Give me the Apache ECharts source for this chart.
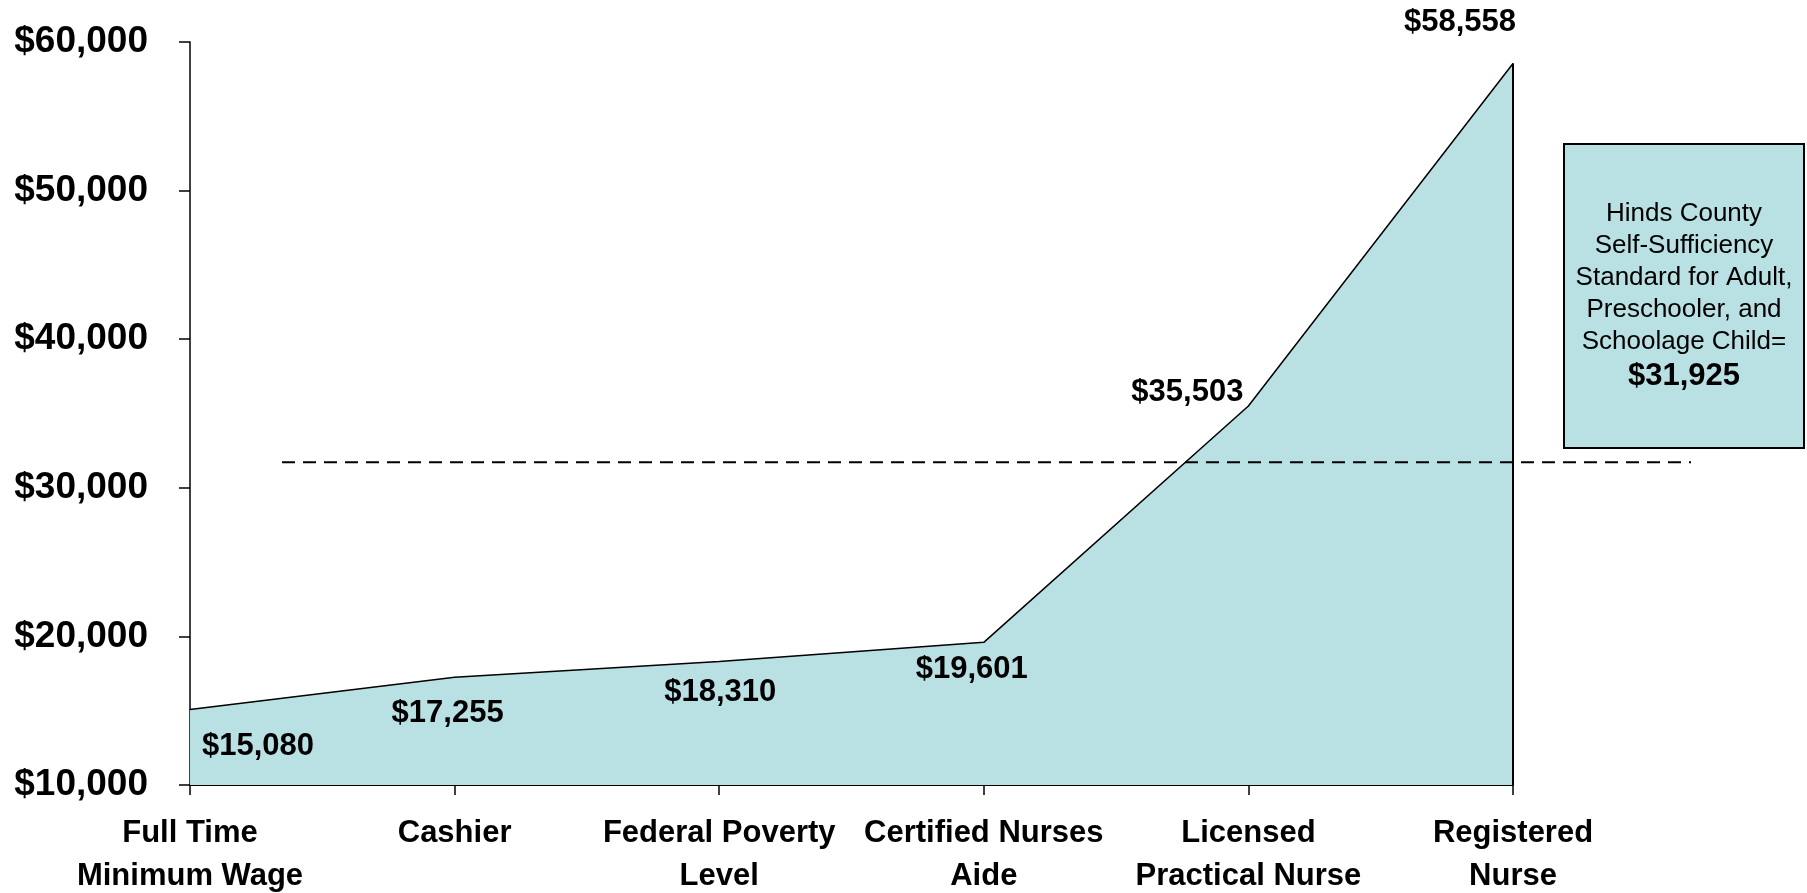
<!DOCTYPE html>
<html>
<head>
<meta charset="utf-8">
<title>Hinds County wages</title>
<script src="https://cdn.jsdelivr.net/npm/echarts@6/dist/echarts.min.js"></script>
<style>
  html, body { margin: 0; padding: 0; background: #fff; }
  #main { width: 1807px; height: 893px; }
</style>
</head>
<body>
<div id="main"></div>
<script>
// 职业类别
var categories = ['Full Time\nMinimum Wage', 'Cashier', 'Federal Poverty\nLevel',
  'Certified Nurses\nAide', 'Licensed\nPractical Nurse', 'Registered\nNurse'];
// 年收入
var wages = [15080, 17255, 18310, 19601, 35503, 58558];
// 自给自足标准
var standard = 31925;
// y轴刻度
var yMin = 10000;
var yMax = 60000;
var yStep = 10000;

var fill = '#B9E0E2';
var font = '"Liberation Sans", Arial, sans-serif';

// 每个数值标签相对于点的偏移
var labelOffsets = [[68, 37], [-7, 36], [1, 31], [-12, 27], [-61, -14], [-53, -41]];

function money(v) {
  return '$' + v.toLocaleString('en-US');
}

var chart = echarts.init(document.getElementById('main'), null, { renderer: 'canvas' });

var option = {
  animation: false,
  grid: [
    // 主图
    { left: 190, right: 294, top: 42, bottom: 108, outerBoundsMode: 'none' },
    // 虚线用
    { left: 282, right: 116, top: 45, bottom: 105, outerBoundsMode: 'none' }
  ],
  xAxis: [
    {
      type: 'category',
      gridIndex: 0,
      data: categories,
      boundaryGap: false,
      axisLine: { lineStyle: { color: '#000', width: 2 } },
      axisTick: { length: 10, lineStyle: { color: '#000', width: 1.5 } },
      axisLabel: {
        margin: 27,
        color: '#000',
        fontFamily: font,
        fontWeight: 'bold',
        fontSize: 31,
        lineHeight: 43,
        interval: 0
      }
    },
    { type: 'value', gridIndex: 1, min: 0, max: 1, show: false }
  ],
  yAxis: [
    {
      type: 'value',
      gridIndex: 0,
      min: yMin,
      max: yMax,
      interval: yStep,
      splitLine: { show: false },
      axisLine: { show: true, lineStyle: { color: '#000', width: 1.5 } },
      axisTick: { show: true, length: 11, lineStyle: { color: '#000', width: 1.5 } },
      axisLabel: {
        margin: 42,
        color: '#000',
        fontFamily: font,
        fontWeight: 'bold',
        fontSize: 37,
        formatter: money
      }
    },
    { type: 'value', gridIndex: 1, min: yMin, max: yMax, show: false }
  ],
  series: [
    {
      type: 'line',
      xAxisIndex: 0,
      yAxisIndex: 0,
      data: wages.map(function (v, i) {
        return {
          value: v,
          label: { offset: labelOffsets[i] }
        };
      }),
      symbol: 'circle',
      symbolSize: 1,
      showSymbol: true,
      itemStyle: { color: '#000' },
      lineStyle: { color: '#000', width: 1.5 },
      areaStyle: { color: fill, opacity: 1, origin: 'start' },
      label: {
        show: true,
        position: 'inside',
        color: '#000',
        fontFamily: font,
        fontWeight: 'bold',
        fontSize: 31,
        formatter: function (p) { return money(p.value); }
      },
      // 右侧的竖线
      markLine: {
        silent: true,
        symbol: 'none',
        label: { show: false },
        lineStyle: { color: '#000', width: 2, type: 'solid' },
        data: [[
          { coord: [categories.length - 1, wages[wages.length - 1]] },
          { coord: [categories.length - 1, yMin] }
        ]]
      },
      emphasis: { disabled: true },
      z: 2
    },
    {
      // 标准线（虚线）
      type: 'line',
      xAxisIndex: 1,
      yAxisIndex: 1,
      data: [[0, standard], [1, standard]],
      symbol: 'none',
      lineStyle: { color: '#000', width: 2, type: [13, 8] },
      emphasis: { disabled: true },
      z: 3
    }
  ],
  graphic: [
    {
      type: 'group',
      left: 1563,
      top: 143,
      children: [
        {
          type: 'rect',
          shape: { x: 0, y: 0, width: 240, height: 304 },
          style: { fill: fill, stroke: '#000', lineWidth: 2 }
        },
        {
          type: 'text',
          x: 120,
          y: 152,
          style: {
            text: '{n|Hinds County}\n{n|Self-Sufficiency}\n{n|Standard for Adult,}\n{n|Preschooler, and}\n{n|Schoolage Child=}\n{b|' + money(standard) + '}',
            align: 'center',
            verticalAlign: 'middle',
            rich: {
              n: { fontFamily: font, fontSize: 26, lineHeight: 32, fill: '#000', align: 'center' },
              b: { fontFamily: font, fontSize: 31, fontWeight: 'bold', lineHeight: 36, fill: '#000', align: 'center' }
            }
          }
        }
      ]
    }
  ]
};

chart.setOption(option);
</script>
</body>
</html>
